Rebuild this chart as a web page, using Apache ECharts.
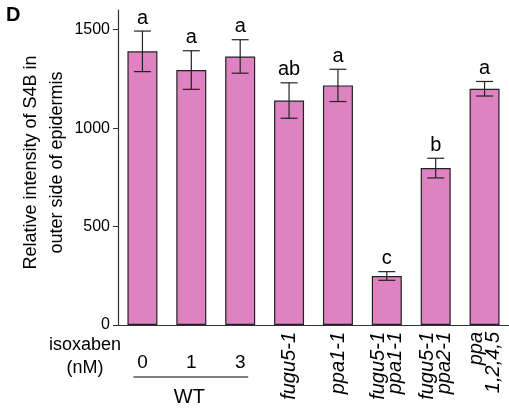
<!DOCTYPE html>
<html>
<head>
<meta charset="utf-8">
<script src="https://cdn.jsdelivr.net/npm/echarts@6/dist/echarts.min.js"></script>
<style>
html, body { margin: 0; padding: 0; background: #fff; }
#chart { width: 509px; height: 411px; }
</style>
</head>
<body>
<div id="chart"></div>
<script>
const categories = ['WT 0', 'WT 1', 'WT 3', 'fugu5-1', 'ppa1-1', 'fugu5-1 ppa1-1', 'fugu5-1 ppa2-1', 'ppa 1,2,4,5']
const doseLabels = ['0', '1', '3', '', '', '', '', '']
const genotypeLabels = ['', '', '', 'fugu5-1', 'ppa1-1', 'fugu5-1\nppa1-1', 'fugu5-1\nppa2-1', 'ppa\n1,2,4,5']
const means = [1390, 1295, 1364, 1140, 1217, 249, 797, 1200]
const errors = [103, 98, 85, 90, 82, 22, 50, 37]
const letters = ['a', 'a', 'a', 'ab', 'a', 'c', 'b', 'a']
const yTicks = [0, 500, 1000, 1500]

const font = 'Liberation Sans, Arial, sans-serif'
const chart = echarts.init(document.getElementById('chart'))

const option = {
  animation: false,
  grid: { left: 118, top: 10, height: 315, width: 395 },
  xAxis: [
    {
      type: 'category',
      data: categories,
      axisLine: { lineStyle: { color: '#333', width: 1.2 } },
      axisTick: { show: false },
      axisLabel: {
        interval: 0, margin: 28, fontSize: 19, color: '#000', fontFamily: font,
        formatter: (v, i) => doseLabels[i]
      }
    },
    {
      type: 'category',
      data: categories,
      position: 'bottom',
      axisLine: { show: false },
      axisTick: { show: false },
      axisLabel: {
        interval: 0, margin: 7, rotate: 90, fontSize: 20, lineHeight: 17,
        fontStyle: 'italic', color: '#000', fontFamily: font,
        formatter: (v, i) => genotypeLabels[i]
      }
    }
  ],
  yAxis: {
    type: 'value',
    min: 0,
    max: 1600,
    name: 'Relative intensity of S4B in\nouter side of epidermis',
    nameLocation: 'middle',
    nameRotate: 90,
    nameGap: 48,
    nameMoveOverlap: false,
    nameTextStyle: { fontSize: 18, lineHeight: 26, color: '#000', fontFamily: font, padding: [0, 0, 0, 10] },
    axisLine: { show: true, lineStyle: { color: '#333', width: 1.2 } },
    axisTick: { show: true, length: 5, customValues: yTicks, lineStyle: { color: '#333' } },
    axisLabel: {
      fontSize: 16, color: '#000', margin: 8, fontFamily: font, customValues: yTicks,
      formatter: v => String(v)
    },
    splitLine: { show: false }
  },
  series: [
    {
      type: 'bar',
      data: means,
      barWidth: 30,
      itemStyle: { color: '#DF82C1', borderColor: '#222', borderWidth: 1.2 }
    },
    {
      type: 'custom',
      data: means.map((m, i) => [i, m, errors[i]]),
      z: 5,
      renderItem: (params, api) => {
        const i = api.value(0)
        const m = api.value(1)
        const e = api.value(2)
        const top = api.coord([i, m + e])
        const bot = api.coord([i, m - e])
        const x = top[0]
        const hw = 8.5
        const st = { stroke: '#222', lineWidth: 1.2 }
        return {
          type: 'group',
          children: [
            { type: 'line', shape: { x1: x, y1: top[1], x2: x, y2: bot[1] }, style: st },
            { type: 'line', shape: { x1: x - hw, y1: top[1], x2: x + hw, y2: top[1] }, style: st },
            { type: 'line', shape: { x1: x - hw, y1: bot[1], x2: x + hw, y2: bot[1] }, style: st },
            {
              type: 'text',
              style: {
                text: letters[params.dataIndex], x: x, y: top[1] - 3,
                align: 'center', verticalAlign: 'bottom',
                font: '20px ' + font, fill: '#000'
              }
            }
          ]
        }
      }
    }
  ]
}
chart.setOption(option)

// annotations under the WT group
const x0 = chart.convertToPixel({ xAxisIndex: 0 }, categories[0])
const x2 = chart.convertToPixel({ xAxisIndex: 0 }, categories[2])
const yBase = chart.convertToPixel({ yAxisIndex: 0 }, 0)
chart.setOption({
  graphic: [
    {
      type: 'text', left: 6, top: 5,
      style: { text: 'D', font: 'bold 20px ' + font, fill: '#000' }
    },
    {
      type: 'text', x: 85, y: yBase + 32,
      style: {
        text: 'isoxaben\n(nM)', font: '18px ' + font, lineHeight: 23,
        align: 'center', verticalAlign: 'middle', fill: '#000'
      }
    },
    {
      type: 'line',
      shape: { x1: x0 - 9, y1: yBase + 52, x2: x2 + 8, y2: yBase + 52 },
      style: { stroke: '#000', lineWidth: 1.2 }
    },
    {
      type: 'text', x: (x0 + x2) / 2 - 2, y: yBase + 72,
      style: {
        text: 'WT', font: '20px ' + font,
        align: 'center', verticalAlign: 'middle', fill: '#000'
      }
    }
  ]
})
</script>
</body>
</html>
